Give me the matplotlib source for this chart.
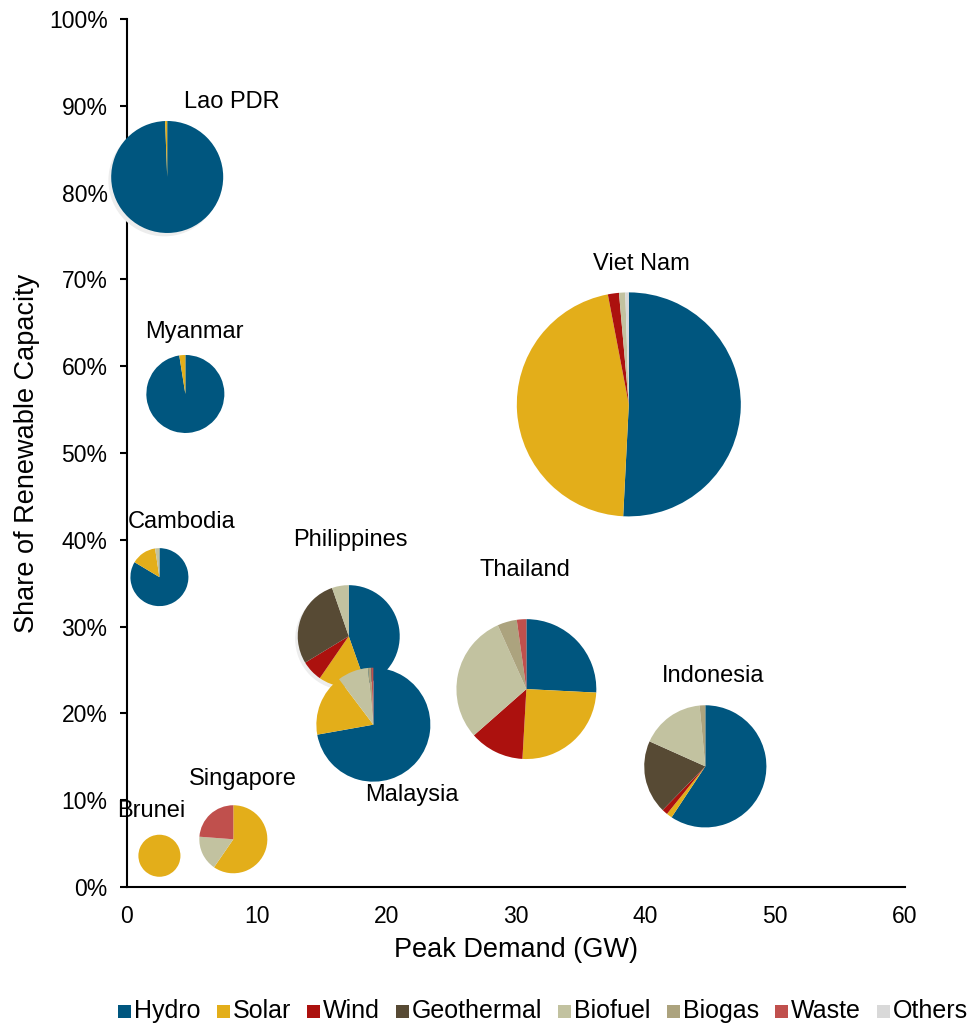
import matplotlib
matplotlib.use("Agg")
import matplotlib.pyplot as plt
import matplotlib.ticker as ticker
from matplotlib.patches import Circle, Rectangle
import numpy as np

plt.rcParams['font.family'] = ['Liberation Sans', 'DejaVu Sans']

# Renewable mix categories (clockwise from 12 o'clock)
sources = ["Hydro", "Solar", "Wind", "Geothermal", "Biofuel", "Biogas", "Waste", "Others"]
colors = ["#00567F", "#E3AE1A", "#AC110E", "#574A34", "#C2C2A0", "#ACA37E", "#C0504D", "#D9D9D9"]

countries = ["Lao PDR", "Myanmar", "Cambodia", "Philippines", "Malaysia",
             "Thailand", "Indonesia", "Viet Nam", "Singapore", "Brunei"]
peak_demand = [3.1, 4.5, 2.5, 17.1, 19.0, 30.8, 44.6, 38.7, 8.2, 2.5]        # GW
re_share = [81.8, 56.8, 35.7, 28.9, 18.7, 22.8, 13.9, 55.6, 5.5, 3.6]        # %
re_capacity = [10.0, 4.85, 2.68, 8.29, 10.36, 15.6, 11.9, 40.0, 3.69, 1.41]  # bubble size

# share of each source in renewable capacity (%)
mix = {
    "Lao PDR":     [99.4, 0.6, 0, 0, 0, 0, 0, 0],
    "Myanmar":     [97.5, 2.5, 0, 0, 0, 0, 0, 0],
    "Cambodia":    [83.6, 14.0, 0, 0, 2.4, 0, 0, 0],
    "Philippines": [44.6, 15.0, 6.7, 28.4, 5.3, 0, 0, 0],
    "Malaysia":    [72.2, 17.5, 0, 0, 8.8, 0.9, 0.6, 0],
    "Thailand":    [25.8, 25.1, 12.6, 0, 29.8, 4.5, 2.2, 0],
    "Indonesia":   [59.3, 1.5, 1.5, 19.4, 16.8, 1.5, 0, 0],
    "Viet Nam":    [50.8, 46.2, 1.6, 0, 0.9, 0, 0, 0.5],
    "Singapore":   [0, 59.6, 0, 0, 16.6, 0, 23.8, 0],
    "Brunei":      [0, 100, 0, 0, 0, 0, 0, 0],
}

# label placement (data coords)
label_xy = {
    "Lao PDR": (8.1, 90.4), "Myanmar": (5.2, 63.9), "Cambodia": (4.2, 42.0),
    "Philippines": (17.2, 40.0), "Malaysia": (22.0, 10.6), "Thailand": (30.7, 36.5),
    "Indonesia": (45.2, 24.3), "Viet Nam": (39.7, 71.8), "Singapore": (8.9, 12.4),
    "Brunei": (1.9, 8.8),
}
shadowed = ["Lao PDR", "Philippines"]

W, H, DPI = 9.7, 10.24, 100
FW, FH = W * DPI, H * DPI
fig = plt.figure(figsize=(W, H), dpi=DPI)
left, right, bottom, top = 127 / FW, 905 / FW, (FH - 887) / FH, (FH - 19) / FH
ax = fig.add_axes([left, bottom, right - left, top - bottom])

xmax, ymax = 60, 100
ax.set_xlim(0, xmax)
ax.set_ylim(0, ymax)
ax.set_xticks(np.arange(0, 61, 10))
ax.set_yticks(np.arange(0, 101, 10))
ax.yaxis.set_major_formatter(ticker.FuncFormatter(lambda v, p: f"{v:.0f}%"))
ax.tick_params(labelsize=16.5, width=1.5, length=5, direction="out", color="black")
ax.tick_params(axis="y", pad=9)
ax.tick_params(axis="x", length=0, pad=13)
for s in ["top", "right"]:
    ax.spines[s].set_visible(False)
for s in ["left", "bottom"]:
    ax.spines[s].set_linewidth(1.5)
ax.set_xlabel("Peak Demand (GW)", fontsize=19.5)
ax.set_ylabel("Share of Renewable Capacity", fontsize=19.5)
ax.xaxis.set_label_coords(0.5, -0.058)
ax.yaxis.set_label_coords(-0.112, 0.5)

# pixels per data unit
sx = (right - left) * FW / xmax
sy = (top - bottom) * FH / ymax
k = 112 / np.sqrt(40.0)

for c, x, y, cap in zip(countries, peak_demand, re_share, re_capacity):
    r = k * np.sqrt(cap)
    w, h = r / sx, r / sy
    iax = ax.inset_axes([x - w, y - h, 2 * w, 2 * h], transform=ax.transData)
    if c in shadowed:
        iax.add_patch(Circle((-0.05, -0.06), 1.0, facecolor="#EDEDED",
                             edgecolor="none", clip_on=False, zorder=0))
    iax.pie(mix[c], colors=colors, startangle=90, counterclock=False,
            wedgeprops=dict(linewidth=0, zorder=1))
    iax.set_xlim(-1, 1)
    iax.set_ylim(-1, 1)
    iax.axis("off")
    lx, ly = label_xy[c]
    ax.text(lx, ly, c, fontsize=17, ha="center", va="center", zorder=10)

# legend row along the bottom, laid out by hand so all labels share a baseline
renderer = fig.canvas.get_renderer()
texts, widths = [], []
for lab in sources:
    t = fig.text(0, 0, lab, fontsize=18, ha="left", va="baseline")
    texts.append(t)
    widths.append(t.get_window_extent(renderer).width)
sq, tpad, x0, x1, base = 13, 3, 118, 968, 1018
gap = (x1 - x0 - sum(sq + tpad + tw for tw in widths)) / (len(sources) - 1)
xpos = x0
for t, tw, col in zip(texts, widths, colors):
    fig.add_artist(Rectangle((xpos / FW, (FH - base) / FH), sq / FW, sq / FH,
                             transform=fig.transFigure, facecolor=col, edgecolor="none"))
    t.set_position(((xpos + sq + tpad) / FW, (FH - base) / FH))
    xpos += sq + tpad + tw + gap

fig.savefig("out.png", dpi=DPI)
